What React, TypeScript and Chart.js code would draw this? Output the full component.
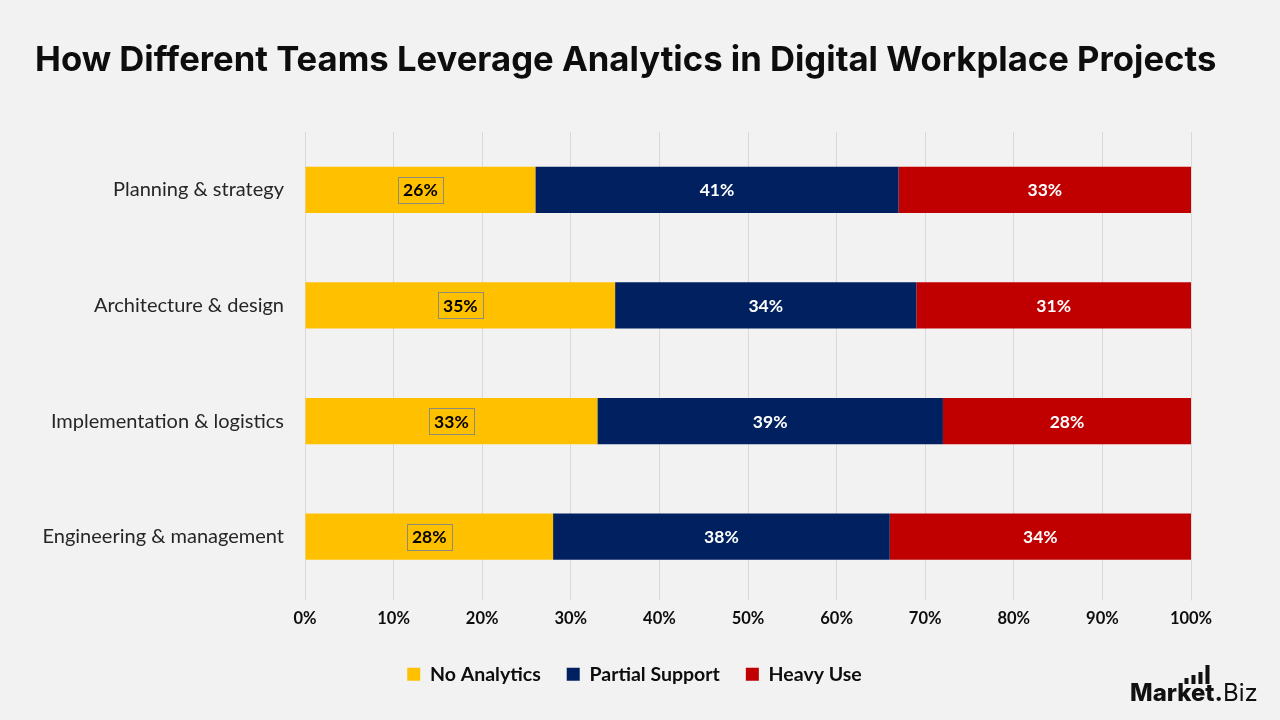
import React, { useEffect, useRef } from 'react';
import { Chart, registerables } from 'chart.js';

Chart.register(...registerables);

const TITLE = 'How Different Teams Leverage Analytics in Digital Workplace Projects';
const categories = [
  'Planning & strategy',
  'Architecture & design',
  'Implementation & logistics',
  'Engineering & management',
];
const seriesNames = ['No Analytics', 'Partial Support', 'Heavy Use'];
const noAnalytics = [26, 35, 33, 28];
const partialSupport = [41, 34, 39, 38];
const heavyUse = [33, 31, 28, 34];
const seriesColors = ['#FFC000', '#002060', '#C00000'];
const labelColors = ['#000000', '#ffffff', '#ffffff'];

const LABEL_FONT = 'Lato, "Liberation Sans", sans-serif';

// Keeps the legend centred on the page rather than on the area left of the right padding.
const legendShift = {
  id: 'legendShift',
  afterLayout(chart: any) {
    const lg = chart.legend;
    if (!lg) return;
    const dx = 39;
    lg.left += dx;
    lg.right += dx;
    if (lg.legendHitBoxes) lg.legendHitBoxes.forEach((b: any) => (b.left += dx));
  },
};

// Title, value labels and brand mark drawn on top of the chart.
const decorations = {
  id: 'decorations',
  afterDatasetsDraw(chart: any) {
    const ctx = chart.ctx as CanvasRenderingContext2D;
    ctx.save();
    ctx.textAlign = 'center';
    ctx.textBaseline = 'middle';
    ctx.font = `bold 17.5px ${LABEL_FONT}`;
    chart.data.datasets.forEach((ds: any, di: number) => {
      const meta = chart.getDatasetMeta(di);
      meta.data.forEach((bar: any, i: number) => {
        const v = ds.data[i];
        const cx = (bar.x + bar.base) / 2;
        const cy = bar.y;
        const txt = `${v}%`;
        if (di === 0) {
          const w = ctx.measureText(txt).width + 10;
          const h = 26;
          ctx.strokeStyle = '#8c8c7a';
          ctx.lineWidth = 1;
          ctx.strokeRect(Math.round(cx - w / 2) + 0.5, Math.round(cy - h / 2) + 0.5, Math.round(w), h);
        }
        ctx.fillStyle = labelColors[di];
        ctx.fillText(txt, cx, cy + 1);
      });
    });
    ctx.restore();
  },
  afterDraw(chart: any) {
    const ctx = chart.ctx as CanvasRenderingContext2D;
    ctx.save();
    // title, fitted to its width
    let size = 32;
    ctx.font = `700 ${size}px Inter, "Open Sans", sans-serif`;
    const target = 1182;
    size = (size * target) / ctx.measureText(TITLE).width;
    ctx.font = `700 ${size}px Inter, "Open Sans", sans-serif`;
    ctx.fillStyle = '#0d0d0d';
    ctx.textAlign = 'left';
    ctx.textBaseline = 'alphabetic';
    ctx.fillText(TITLE, 35, 71);

    // brand mark
    ctx.fillStyle = '#111111';
    ctx.font = `800 24px Inter, "Open Sans", sans-serif`;
    ctx.textBaseline = 'alphabetic';
    const x0 = 1130;
    const base = 701;
    ctx.fillText('Market', x0, base);
    const wM = ctx.measureText('Market').width;
    ctx.fillText('.', x0 + wM, base);
    const wDot = ctx.measureText('.').width;
    ctx.font = `400 24px Inter, "Open Sans", sans-serif`;
    ctx.fillText('Biz', x0 + wM + wDot, base);
    const barsX = x0 + wM - 30;
    const heights = [6, 9, 12, 19];
    heights.forEach((h, k) => {
      ctx.fillRect(barsX + k * 7, 684 - h, 4, h);
    });
    ctx.restore();
  },
};

export default function App() {
  const ref = useRef<HTMLCanvasElement>(null);
  useEffect(() => {
    document.body.style.margin = '0';
    const data = [noAnalytics, partialSupport, heavyUse];
    const chart = new Chart(ref.current!, {
      type: 'bar',
      data: {
        labels: categories,
        datasets: seriesNames.map((name, i) => ({
          label: name,
          data: data[i],
          backgroundColor: seriesColors[i],
          borderWidth: 0,
          barPercentage: 0.4,
          categoryPercentage: 1,
        })),
      },
      options: {
        indexAxis: 'y',
        responsive: false,
        animation: false,
        layout: { padding: { top: 132, right: 89, left: 0, bottom: 26 } },
        scales: {
          x: {
            stacked: true,
            min: 0,
            max: 100,
            ticks: {
              stepSize: 10,
              callback: (v: any) => `${v}%`,
              color: '#0d0d0d',
              font: { family: LABEL_FONT, size: 16.5, weight: 'bold' },
              padding: 8,
            },
            grid: { color: '#d9d9d9', lineWidth: 1, tickLength: 6 },
            border: { display: false },
            afterFit: (s: any) => {
              s.height = 44;
            },
          },
          y: {
            stacked: true,
            ticks: {
              color: '#262626',
              font: { family: LABEL_FONT, size: 20 },
              padding: 13,
            },
            grid: { display: false },
            border: { display: false },
            afterFit: (s: any) => {
              s.width = 305;
            },
          },
        },
        plugins: {
          legend: {
            position: 'bottom',
            labels: {
              boxWidth: 13,
              boxHeight: 13,
              padding: 26,
              color: '#0d0d0d',
              font: { family: LABEL_FONT, size: 19.5, weight: 'bold' },
            },
          },
          tooltip: { enabled: false },
          title: { display: false },
        },
      },
      plugins: [legendShift, decorations],
    });
    return () => chart.destroy();
  }, []);
  return (
    <div style={{ width: 1280, height: 720, background: '#f2f2f2' }}>
      <canvas ref={ref} width={1280} height={720} style={{ display: 'block' }} />
    </div>
  );
}
